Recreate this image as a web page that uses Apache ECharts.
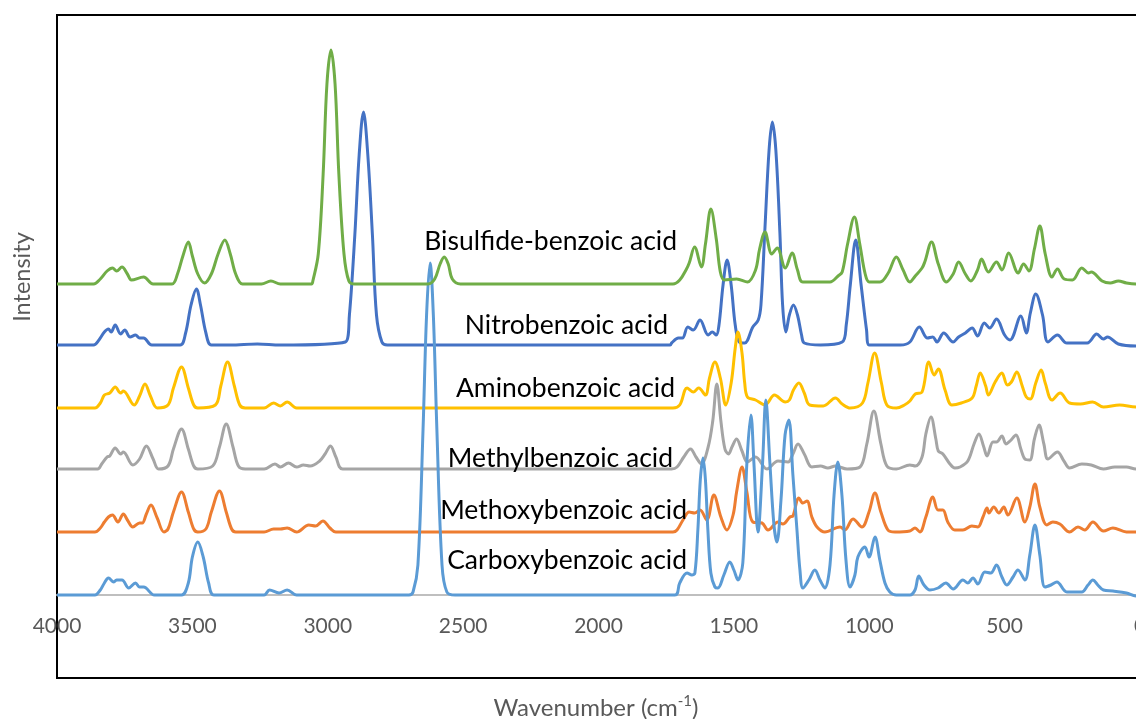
<!DOCTYPE html>
<html>
<head>
<meta charset="utf-8">
<script src="https://cdn.jsdelivr.net/npm/echarts@6/dist/echarts.min.js"></script>
<style>
  html, body { margin: 0; padding: 0; background: #ffffff; }
  #chart { width: 1136px; height: 719px; }
</style>
</head>
<body>
<div id="chart"></div>
<script>
// Raman spectra of substituted benzoic acids, stacked with vertical offsets.
// Each spectrum: [wavenumber (cm-1), relative intensity above its own baseline].

const seriesNames = [
  'Nitrobenzoic acid',
  'Methoxybenzoic acid',
  'Methylbenzoic acid',
  'Aminobenzoic acid',
  'Carboxybenzoic acid',
  'Bisulfide-benzoic acid'
];

const seriesColors = ['#4472C4', '#ED7D31', '#A5A5A5', '#FFC000', '#5B9BD5', '#70AD47'];

// vertical stacking offset of each spectrum
const baselineOffsets = [250, 63, 126, 187, 0, 311];

const nitro = [
  [4000,0],[3865,0],[3845,5],[3825,13],[3810,16],[3800,13],[3785,20],[3765,11],[3750,15],[3730,8],
  [3710,10],[3695,7],[3680,7],[3650,0],[3545,0],[3525,12],[3505,40],[3485,56],[3470,40],[3450,12],
  [3430,0],[3360,0],[3260,1],[3175,0],[2935,3],[2920,30],[2900,110],[2884,190],[2868,233],[2852,190],
  [2835,110],[2820,30],[2800,3],[2780,0],[1735,0],[1730,2],[1705,7],[1690,7],[1670,18],[1650,15],
  [1625,25],[1595,10],[1580,13],[1565,10],[1555,20],[1540,60],[1525,85],[1510,60],[1495,20],[1480,3],
  [1460,2],[1430,18],[1410,25],[1400,40],[1385,118],[1370,195],[1358,223],[1345,195],[1330,112],[1320,40],
  [1308,13],[1295,30],[1280,40],[1265,30],[1250,10],[1240,2],[1180,0],[1100,3],[1085,20],[1070,60],
  [1050,105],[1030,60],[1010,15],[1000,0],[885,0],[850,3],[815,18],[785,7],[765,8],[750,3],
  [725,12],[690,3],[670,8],[645,12],[620,17],[600,9],[575,22],[555,17],[530,26],[500,10],
  [480,5],[440,29],[420,12],[405,32],[385,51],[360,30],[340,3],[305,10],[270,2],[195,2],
  [160,11],[135,6],[120,8],[80,1],[15,-1],[0,-1]
];

const methoxy = [
  [4000,0],[3860,0],[3840,4],[3825,10],[3810,15],[3795,17],[3775,10],[3755,18],[3740,12],[3720,5],
  [3695,9],[3685,9],[3670,18],[3653,27],[3630,14],[3605,0],[3590,3],[3570,20],[3540,40],[3515,20],
  [3495,3],[3480,0],[3450,3],[3430,20],[3400,41],[3375,20],[3355,3],[3340,0],[3235,0],[3200,3],
  [3175,3],[3150,4],[3115,0],[3070,7],[3045,6],[3018,11],[2992,4],[2970,0],[1725,0],[1710,2],
  [1688,12],[1665,20],[1645,19],[1625,22],[1600,12],[1574,37],[1548,15],[1526,2],[1503,17],[1490,40],
  [1470,65],[1452,40],[1430,10],[1396,9],[1374,2],[1337,10],[1319,8],[1293,15],[1282,16],[1260,34],
  [1245,29],[1230,31],[1212,15],[1193,5],[1164,0],[1108,5],[1090,2],[1060,13],[1027,5],[1001,20],
  [979,39],[957,20],[931,2],[905,0],[850,1],[831,4],[813,0],[791,15],[765,35],[746,22],
  [728,22],[710,10],[684,2],[654,2],[621,6],[599,5],[580,15],[565,24],[558,19],[540,25],
  [521,19],[503,25],[488,17],[455,34],[425,10],[407,25],[388,48],[370,25],[344,7],[322,10],
  [296,8],[260,0],[229,5],[204,2],[174,10],[135,1],[100,4],[50,0],[15,0],[0,0]
];

const methyl = [
  [4000,0],[3850,0],[3835,5],[3815,12],[3805,13],[3785,21],[3765,15],[3755,17],[3720,4],[3695,10],
  [3670,23],[3645,10],[3625,0],[3590,3],[3570,20],[3540,40],[3515,20],[3495,3],[3480,0],[3425,3],
  [3400,22],[3375,45],[3350,22],[3330,3],[3305,0],[3235,0],[3195,5],[3175,2],[3145,6],[3115,2],
  [3090,4],[3065,3],[3030,8],[3010,15],[2990,23],[2970,12],[2945,0],[1730,0],[1710,2],[1685,12],
  [1660,20],[1640,12],[1620,5],[1595,22],[1578,48],[1563,85],[1548,48],[1533,20],[1520,15],[1507,22],
  [1490,30],[1470,18],[1450,7],[1420,12],[1378,0],[1337,8],[1300,7],[1282,15],[1263,25],[1240,15],
  [1212,2],[1180,3],[1153,1],[1125,3],[1082,0],[1034,2],[1009,25],[983,58],[957,25],[935,3],
  [900,0],[850,4],[830,3],[805,12],[791,35],[772,52],[754,30],[745,18],[728,15],[702,5],
  [684,1],[665,2],[636,8],[613,25],[595,35],[577,22],[565,13],[543,27],[530,27],[510,33],
  [495,25],[480,28],[458,34],[440,20],[425,10],[407,9],[390,30],[373,44],[355,25],[340,10],
  [305,17],[281,8],[260,1],[215,5],[180,4],[135,0],[93,2],[50,2],[15,0],[0,0]
];

const amino = [
  [4000,0],[3860,0],[3840,5],[3825,13],[3805,15],[3785,21],[3765,15],[3755,17],[3715,3],[3695,12],
  [3675,24],[3655,12],[3630,0],[3590,3],[3570,20],[3540,41],[3515,20],[3495,3],[3480,0],[3415,3],
  [3395,22],[3370,46],[3345,22],[3325,3],[3305,0],[3235,0],[3200,5],[3175,2],[3150,6],[3115,0],
  [1725,0],[1700,3],[1673,20],[1650,16],[1630,20],[1605,13],[1590,30],[1570,46],[1550,30],[1530,3],
  [1510,25],[1495,60],[1485,76],[1470,55],[1460,25],[1450,11],[1420,8],[1385,3],[1350,13],[1310,6],
  [1295,8],[1280,18],[1260,25],[1240,15],[1220,3],[1170,2],[1125,10],[1100,4],[1070,0],[1025,5],
  [1005,25],[980,55],[955,25],[935,3],[900,0],[870,3],[850,7],[830,14],[805,16],[780,46],
  [760,33],[745,39],[720,18],[695,3],[660,5],[620,10],[605,22],[590,35],[570,22],[560,13],
  [535,26],[510,35],[490,23],[475,26],[455,36],[435,22],[420,11],[405,9],[385,25],[365,38],
  [350,25],[325,8],[295,15],[260,5],[220,4],[175,6],[135,1],[75,3],[15,1],[0,1]
];

const carboxy = [
  [4000,0],[3860,0],[3840,5],[3825,12],[3810,17],[3790,13],[3780,15],[3760,15],[3735,7],[3710,12],
  [3695,8],[3680,8],[3640,0],[3540,0],[3515,12],[3500,38],[3480,53],[3460,38],[3440,12],[3420,0],
  [3235,0],[3215,5],[3180,2],[3150,5],[3115,0],[2700,0],[2685,3],[2667,30],[2648,166],[2635,280],
  [2622,332],[2610,280],[2597,166],[2578,30],[2560,3],[2530,0],[1718,0],[1700,12],[1673,22],[1655,20],
  [1644,22],[1633,65],[1624,115],[1614,137],[1605,115],[1596,65],[1585,22],[1570,8],[1559,7],[1537,20],
  [1515,33],[1500,25],[1485,15],[1467,32],[1452,132],[1437,180],[1426,132],[1411,63],[1394,132],[1382,195],
  [1367,132],[1352,70],[1341,53],[1326,95],[1311,160],[1297,175],[1282,120],[1267,65],[1256,25],[1245,7],
  [1223,15],[1201,25],[1182,15],[1164,7],[1145,30],[1130,100],[1116,133],[1101,100],[1086,35],[1071,8],
  [1053,20],[1042,38],[1016,48],[1001,38],[979,58],[961,35],[942,12],[924,3],[900,0],[850,0],
  [831,5],[817,19],[798,10],[776,5],[746,7],[717,12],[690,6],[654,15],[636,12],[617,17],
  [599,11],[573,23],[551,22],[530,30],[510,18],[492,10],[469,18],[451,25],[425,15],[407,40],
  [388,70],[370,40],[351,8],[329,10],[307,13],[270,3],[215,3],[192,10],[174,15],[156,10],
  [135,5],[100,4],[50,2],[15,-1],[0,-1]
];

const bisulfide = [
  [4000,0],[3865,0],[3840,5],[3815,13],[3795,16],[3780,13],[3760,17],[3740,10],[3725,4],[3680,7],
  [3645,0],[3575,0],[3555,10],[3535,28],[3515,42],[3500,28],[3480,10],[3455,1],[3430,10],[3405,30],
  [3380,44],[3360,30],[3340,10],[3315,0],[3245,0],[3210,3],[3175,0],[3060,0],[3055,3],[3035,30],
  [3017,110],[3003,200],[2988,234],[2973,200],[2959,110],[2940,30],[2922,3],[2900,0],[2630,0],[2605,5],
  [2585,20],[2570,27],[2555,20],[2540,5],[2510,0],[1725,0],[1700,4],[1675,15],[1665,21],[1645,37],
  [1620,17],[1605,40],[1585,75],[1565,45],[1550,12],[1535,4],[1490,5],[1450,2],[1420,14],[1405,35],
  [1385,52],[1360,30],[1340,36],[1310,16],[1285,31],[1265,14],[1245,2],[1145,2],[1115,8],[1100,12],
  [1080,40],[1055,67],[1035,40],[1015,10],[1000,2],[960,2],[930,11],[900,27],[875,14],[850,2],
  [830,8],[805,16],[795,22],[770,42],[745,20],[715,2],[690,10],[670,22],[645,10],[625,3],
  [600,14],[585,25],[560,12],[530,22],[510,14],[485,31],[450,11],[430,20],[410,13],[390,35],
  [370,58],[350,30],[325,7],[305,15],[280,5],[250,4],[215,16],[190,11],[180,12],[140,3],
  [110,1],[80,3],[50,1],[15,0],[0,0]
];

const spectra = [nitro, methoxy, methyl, amino, carboxy, bisulfide];

// x axis ticks every 500 cm-1 from 0 to 4000
const xMin = 0, xMax = 4000, xStep = 500;
// intensity range of the frame (baseline of the lowest spectrum sits at 0)
const yMin = -83, yMax = 580;

const chart = echarts.init(document.getElementById('chart'), null, { renderer: 'canvas' });

const series = spectra.map((pts, i) => ({
  name: seriesNames[i],
  type: 'line',
  data: pts.map(p => [p[0], p[1] + baselineOffsets[i]]),
  smooth: 0.35,
  showSymbol: false,
  symbol: 'none',
  lineStyle: { color: seriesColors[i], width: 3 },
  itemStyle: { color: seriesColors[i] },
  z: 2 + i,
  animation: false
}));

// name tags placed just left of each spectrum's fingerprint region
const labelSpots = [
  { name: 'Bisulfide-benzoic acid', right: 677, y: 241 },
  { name: 'Nitrobenzoic acid',      right: 668, y: 325 },
  { name: 'Aminobenzoic acid',      right: 675, y: 388 },
  { name: 'Methylbenzoic acid',     right: 673, y: 458 },
  { name: 'Methoxybenzoic acid',    right: 687, y: 510 },
  { name: 'Carboxybenzoic acid',    right: 687, y: 560 }
];

const graphics = labelSpots.map(l => ({
  type: 'text',
  x: l.right,
  y: l.y,
  z: 50,
  style: {
    text: l.name,
    fill: '#000000',
    font: '26.5px Lato, "Open Sans", sans-serif',
    align: 'right',
    verticalAlign: 'middle'
  }
}));

graphics.push({
  type: 'text',
  x: 596,
  y: 708,
  z: 50,
  style: {
    text: '{a|Wavenumber (cm}{s|-1}{a|)}',
    align: 'center',
    verticalAlign: 'middle',
    rich: {
      a: { fontFamily: 'Lato', fontSize: 24, fill: '#595959', color: '#595959' },
      s: { fontFamily: 'Lato', fontSize: 15, fill: '#595959', color: '#595959', padding: [0, 0, 13, 0] }
    }
  }
});

graphics.push({
  type: 'text',
  x: 22,
  y: 277,
  rotation: Math.PI / 2,
  z: 50,
  style: {
    text: 'Intensity',
    fill: '#595959',
    font: '23.5px Lato, sans-serif',
    align: 'center',
    verticalAlign: 'middle'
  }
});

chart.setOption({
  animation: false,
  backgroundColor: '#ffffff',
  grid: {
    left: 57,
    top: 15,
    right: -4,
    bottom: 41,
    show: true,
    borderColor: '#000000',
    borderWidth: 2,
    backgroundColor: 'transparent',
    containLabel: false,
    outerBoundsMode: 'none'
  },
  xAxis: {
    type: 'value',
    inverse: true,
    min: xMin,
    max: xMax,
    interval: xStep,
    position: 'bottom',
    // the axis runs along the lowest baseline, above the frame's bottom edge
    offset: yMin,
    axisLine: { show: true, onZero: false, lineStyle: { color: '#BFBFBF', width: 2 } },
    axisTick: { show: false },
    splitLine: { show: false },
    axisLabel: {
      color: '#595959',
      fontFamily: 'Lato',
      fontSize: 21,
      margin: 21,
      showMinLabel: true,
      showMaxLabel: true,
      hideOverlap: false,
      formatter: v => String(v)
    }
  },
  yAxis: {
    type: 'value',
    min: yMin,
    max: yMax,
    show: true,
    axisLine: { show: false },
    axisTick: { show: false },
    axisLabel: { show: false },
    splitLine: { show: false }
  },
  series: series,
  graphic: graphics
});
</script>
</body>
</html>
